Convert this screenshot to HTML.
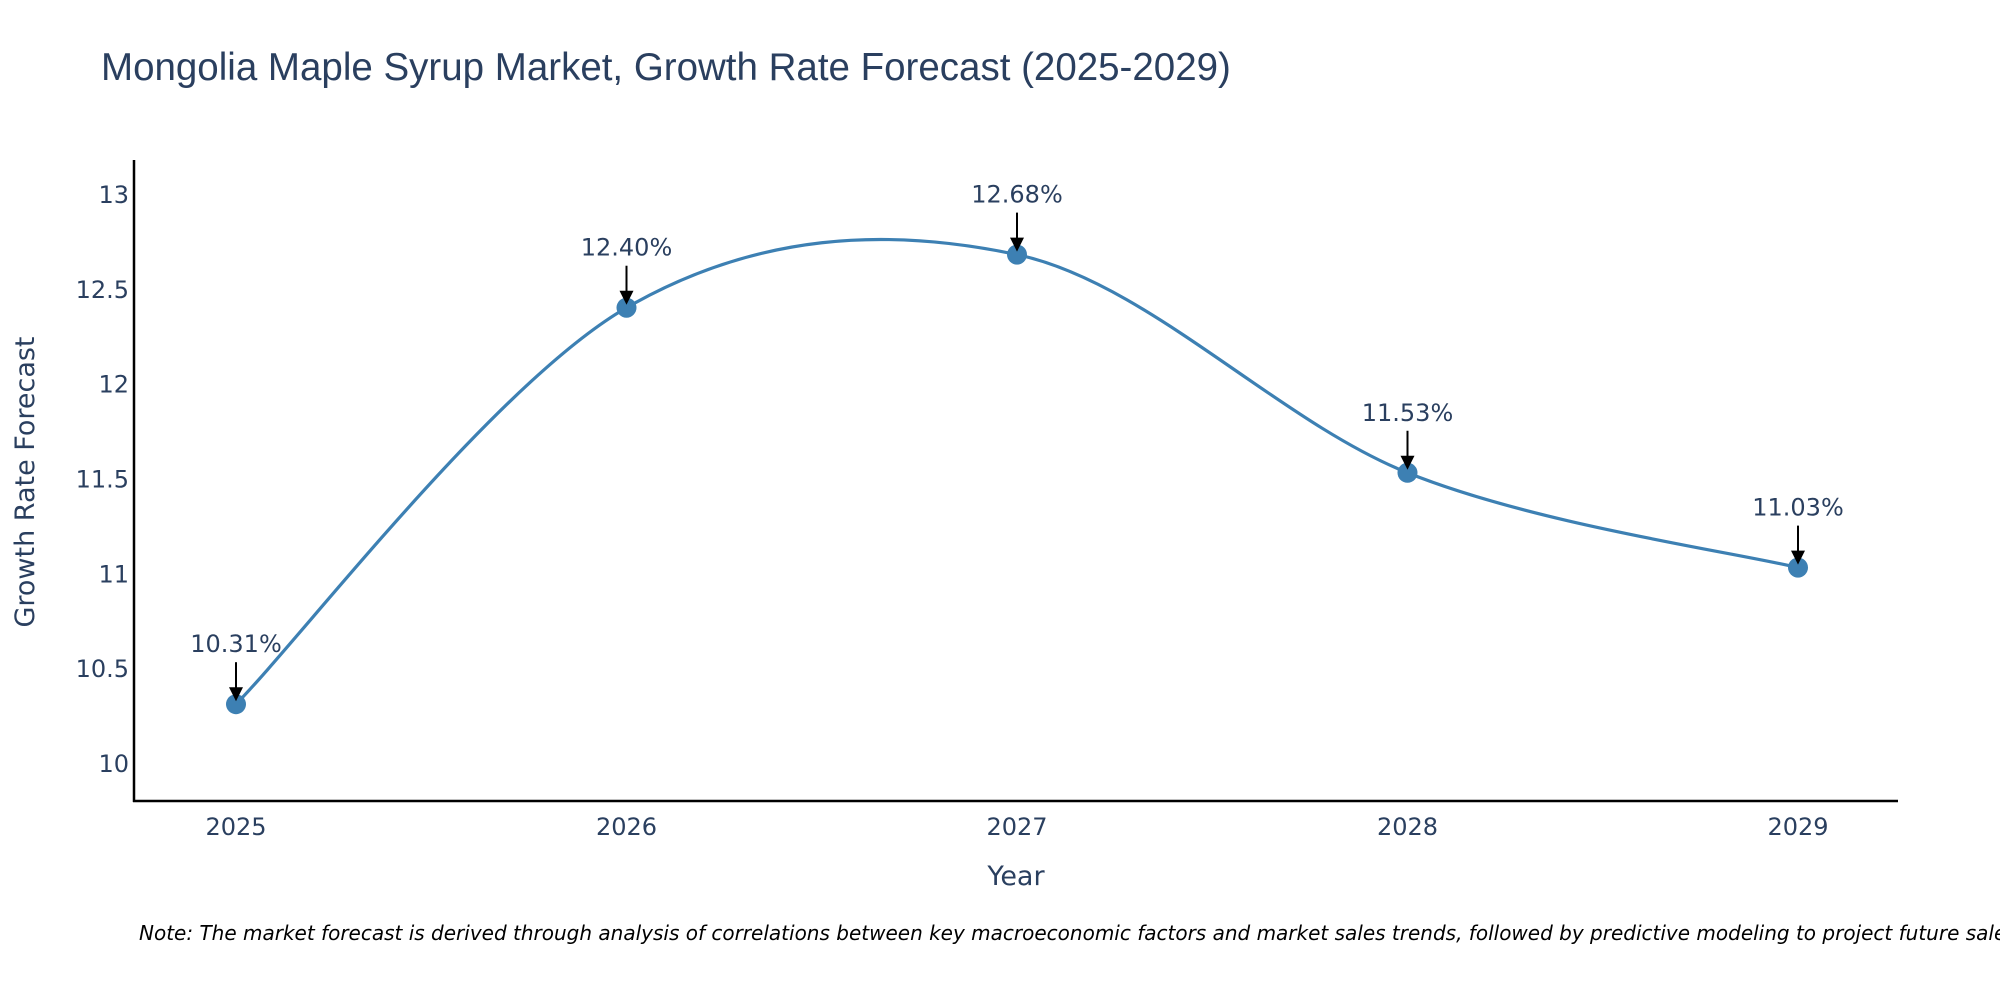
<!DOCTYPE html>
<html><head><meta charset="utf-8"><style>
body{margin:0;background:#fff}
svg{display:block;font-family:"DejaVu Sans","Liberation Sans",sans-serif}
</style></head><body>
<svg id="chart" width="2000" height="1000">
<text x="101" y="80" font-size="38.5" fill="#2a3f5f" font-family="Liberation Sans, sans-serif">Mongolia Maple Syrup Market, Growth Rate Forecast (2025-2029)</text>
<g id="yticks"></g><g id="xticks"></g>
<line x1="134" y1="160" x2="134" y2="802" stroke="#000" stroke-width="2.5"/>
<line x1="133" y1="801" x2="1898" y2="801" stroke="#000" stroke-width="2.5"/>
<path id="line" fill="none" stroke="#3d80b3" stroke-width="3.2"/>
<g id="marks"></g>
<text x="1016" y="885" font-size="27" fill="#2a3f5f" text-anchor="middle">Year</text>
<text transform="translate(34,482) rotate(-90)" font-size="27" fill="#2a3f5f" text-anchor="middle">Growth Rate Forecast</text>
<text x="139" y="940" font-size="20" font-style="italic" fill="#000">Note: The market forecast is derived through analysis of correlations between key macroeconomic factors and market sales trends, followed by predictive modeling to project future sales.</text>
</svg>
<script>
const years=[2025,2026,2027,2028,2029];
const values=[10.31,12.40,12.68,11.53,11.03];
const yTicks=[10,10.5,11,11.5,12,12.5,13];
const yTickLabels=["10","10.5","11","11.5","12","12.5","13"];
const NS="http://www.w3.org/2000/svg";
function X(v){return 236+(v-2025)*390.5;}
function Y(v){return 763-(v-10)*189.7;}
function mk(t,a,p){const e=document.createElementNS(NS,t);for(const k in a)e.setAttribute(k,a[k]);p.appendChild(e);return e;}
const yt=document.getElementById('yticks');
yTicks.forEach((v,i)=>{const t=mk('text',{x:129,y:Y(v)+9,'font-size':24,fill:'#2a3f5f','text-anchor':'end'},yt);t.textContent=yTickLabels[i];

});
const xt=document.getElementById('xticks');
years.forEach(v=>{const t=mk('text',{x:X(v),y:835,'font-size':24,fill:'#2a3f5f','text-anchor':'middle'},xt);t.textContent=v;

});
const P=years.map((y,i)=>[X(y),Y(values[i])]);
let d='M'+P[0][0]+','+P[0][1];
for(let i=0;i<P.length-1;i++){const p0=P[Math.max(i-1,0)],p1=P[i],p2=P[i+1],p3=P[Math.min(i+2,P.length-1)];
const k=1/6;
d+=' C'+(p1[0]+(p2[0]-p0[0])*k)+','+(p1[1]+(p2[1]-p0[1])*k)+' '+(p2[0]-(p3[0]-p1[0])*k)+','+(p2[1]-(p3[1]-p1[1])*k)+' '+p2[0]+','+p2[1];}
document.getElementById('line').setAttribute('d',d);
const g=document.getElementById('marks');
P.forEach((p,i)=>{const c=mk('circle',{cx:p[0],cy:p[1],r:10,fill:'#3d80b3'},g);


const l=mk('line',{x1:p[0],y1:p[1]-42,x2:p[0],y2:p[1]-14,stroke:'#000','stroke-width':2},g);


const h=mk('path',{d:`M${p[0]-7},${p[1]-17} L${p[0]+7},${p[1]-17} L${p[0]},${p[1]-3} Z`,fill:'#000'},g);


const t=mk('text',{x:p[0],y:p[1]-52,'font-size':24,fill:'#2a3f5f','text-anchor':'middle'},g);t.textContent=values[i].toFixed(2)+'%';

});
</script>
</body></html>
